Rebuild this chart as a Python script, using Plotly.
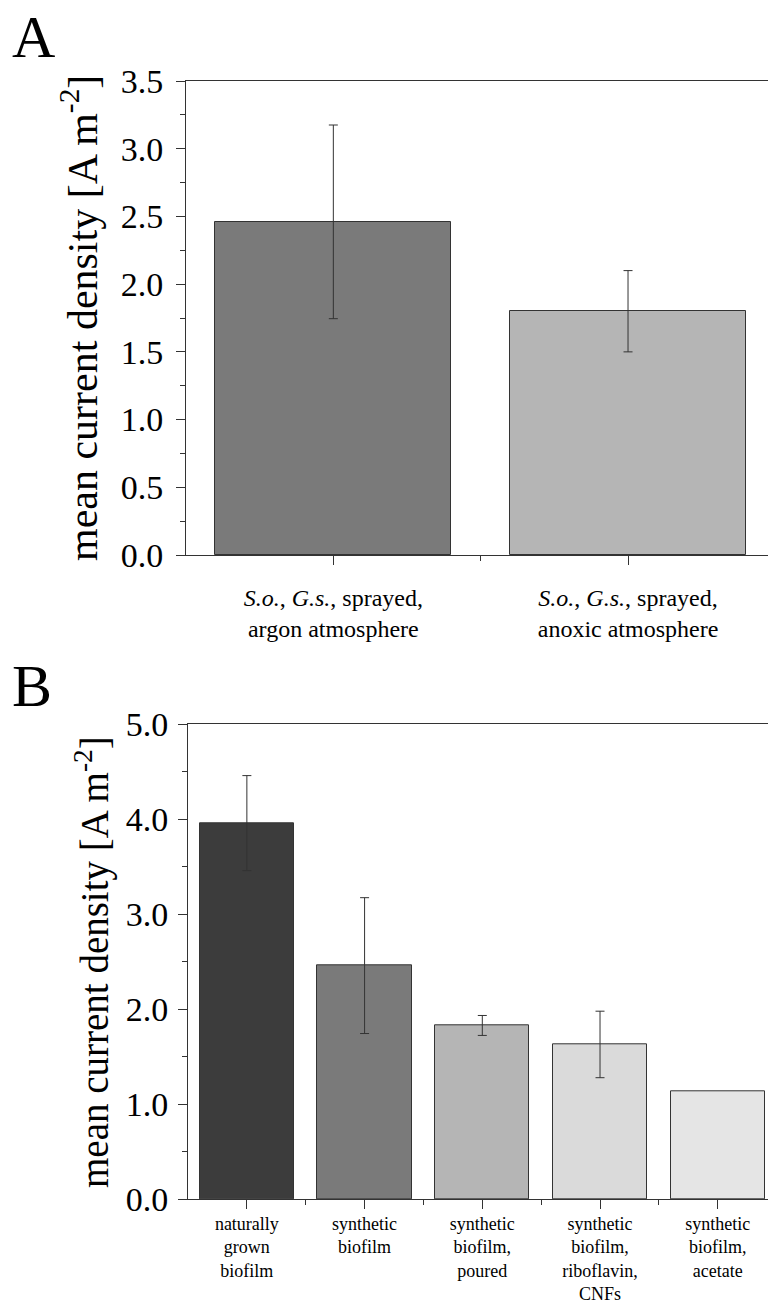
import plotly.graph_objects as go

# ---------------- data ----------------
a_categories = [
    "<i>S.o.</i>, <i>G.s.</i>, sprayed,<br>argon atmosphere",
    "<i>S.o.</i>, <i>G.s.</i>, sprayed,<br>anoxic atmosphere",
]
a_values = [2.46, 1.80]
a_errors = [0.715, 0.30]
a_colors = ["#7a7a7a", "#b5b5b5"]

b_categories = [
    "naturally<br>grown<br>biofilm",
    "synthetic<br>biofilm",
    "synthetic<br>biofilm,<br>poured",
    "synthetic<br>biofilm,<br>riboflavin,<br>CNFs",
    "synthetic<br>biofilm,<br>acetate",
]
b_values = [3.96, 2.46, 1.83, 1.63, 1.14]
b_errors = [0.50, 0.715, 0.105, 0.35, None]
b_colors = ["#3c3c3c", "#7a7a7a", "#b5b5b5", "#dadada", "#e5e5e5"]

y_title = "mean current density [A m<sup>-2</sup>]"

# ---------------- figure ----------------
W, H = 768, 1304
FONT = "Liberation Serif, Times New Roman, serif"
LINE = "#333333"

a_x = list(range(len(a_categories)))
b_x = list(range(len(b_categories)))
b_err_idx = [i for i, e in enumerate(b_errors) if e is not None]

fig = go.Figure()
fig.add_trace(go.Bar(
    x=a_x, y=a_values, width=0.8,
    marker=dict(color=a_colors, line=dict(color=LINE, width=1)),
    error_y=dict(type="data", array=a_errors, visible=True,
                 color=LINE, thickness=1, width=4.5),
    xaxis="x", yaxis="y", showlegend=False,
))
fig.add_trace(go.Bar(
    x=b_x, y=b_values, width=0.8,
    marker=dict(color=b_colors, line=dict(color=LINE, width=1)),
    xaxis="x2", yaxis="y2", showlegend=False,
))
fig.add_trace(go.Scatter(
    x=[b_x[i] for i in b_err_idx], y=[b_values[i] for i in b_err_idx],
    mode="markers", marker=dict(size=1, color="rgba(0,0,0,0)"),
    error_y=dict(type="data", array=[b_errors[i] for i in b_err_idx],
                 visible=True, color=LINE, thickness=1, width=4.5),
    xaxis="x2", yaxis="y2", showlegend=False, hoverinfo="skip",
))

def px_y(p):
    return 1 - p / H

common_axis = dict(showgrid=False, zeroline=False, showline=True,
                   linecolor=LINE, linewidth=1, ticks="outside",
                   tickcolor=LINE, tickwidth=1, ticklen=9, automargin=False)

fig.update_layout(
    width=W, height=H, autosize=False,
    margin=dict(l=0, r=0, t=0, b=0, pad=0, autoexpand=False),
    paper_bgcolor="white", plot_bgcolor="white",
    font=dict(family=FONT, color="black"),
    bargap=0,
    xaxis=dict(**common_axis, domain=[186 / W, 1], anchor="y",
               range=[-0.5, 1.475], tickvals=a_x, ticktext=a_categories,
               tickfont=dict(size=24), mirror=True, ticklabelstandoff=12,
               minor=dict(tickvals=[0.5], ticks="outside", ticklen=5,
                          tickcolor=LINE, tickwidth=1)),
    yaxis=dict(**common_axis, domain=[px_y(555), px_y(81)], anchor="x",
               range=[0, 3.5], dtick=0.5, tick0=0, tickformat=".1f",
               tickfont=dict(size=34), ticklabelstandoff=6,
               minor=dict(dtick=0.25, ticks="outside", ticklen=5,
                          tickcolor=LINE, tickwidth=1)),
    xaxis2=dict(**common_axis, domain=[188 / W, 1], anchor="y2",
                range=[-0.5, 4.427], tickvals=b_x, ticktext=b_categories,
                tickfont=dict(size=18), mirror=True, ticklabelstandoff=-1,
                minor=dict(tickvals=[0.5, 1.5, 2.5, 3.5], ticks="outside",
                           ticklen=5, tickcolor=LINE, tickwidth=1)),
    yaxis2=dict(**common_axis, domain=[px_y(1199.3), px_y(724.3)], anchor="x2",
                range=[0, 5], dtick=1, tick0=0, tickformat=".1f",
                tickfont=dict(size=34), ticklabelstandoff=3,
                minor=dict(dtick=0.5, ticks="outside", ticklen=5,
                           tickcolor=LINE, tickwidth=1)),
)

annotations = [
    dict(text="A", x=10 / W, y=px_y(37), xref="paper", yref="paper",
         xanchor="left", yanchor="middle", showarrow=False,
         font=dict(size=60, family=FONT)),
    dict(text="B", x=10 / W, y=px_y(686), xref="paper", yref="paper",
         xanchor="left", yanchor="middle", showarrow=False,
         font=dict(size=60, family=FONT)),
    dict(text=y_title, x=79 / W, y=px_y(318), xref="paper", yref="paper",
         xanchor="center", yanchor="middle", textangle=-90, showarrow=False,
         font=dict(size=42, family=FONT)),
    dict(text=y_title, x=92 / W, y=px_y(962), xref="paper", yref="paper",
         xanchor="center", yanchor="middle", textangle=-90, showarrow=False,
         font=dict(size=39, family=FONT)),
]
fig.update_layout(annotations=annotations)

fig.write_html("out.html")
